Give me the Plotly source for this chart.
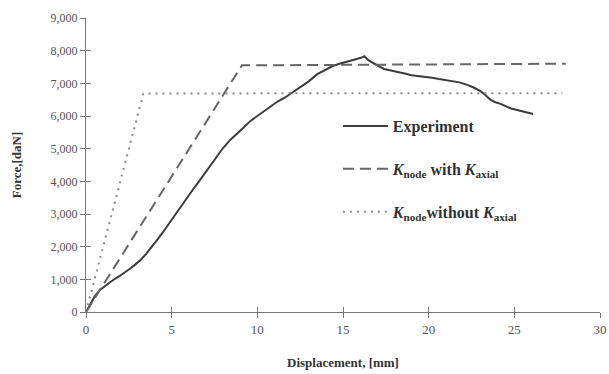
import plotly.graph_objects as go

# Experiment curve
exp_x = [0, 0.15, 0.3, 0.5, 0.8, 1.1, 1.5, 1.9, 2.2, 2.5, 2.8, 3.2, 3.5, 3.8, 4.2, 4.5, 4.8,
         5.2, 5.5, 5.8, 6.2, 6.5, 6.8, 7.2, 7.6, 8.0, 8.4, 8.8, 9.2, 9.6, 10.0, 10.4, 10.8,
         11.2, 11.6, 12.0, 12.5, 13.0, 13.5, 13.9, 14.4, 14.8, 15.2, 15.6, 15.9, 16.1, 16.25,
         16.5, 16.8, 17.1, 17.4, 17.8, 18.2, 18.6, 19.0, 19.4, 19.8, 20.2, 20.6, 21.0, 21.4,
         21.8, 22.2, 22.6, 23.0, 23.3, 23.6, 23.9, 24.2, 24.5, 24.8, 25.1, 25.4, 25.7, 26.1]
exp_y = [0, 130, 300, 470, 670, 800, 950, 1080, 1180, 1300, 1420, 1600, 1770, 1960, 2240, 2450, 2680,
         2980, 3200, 3420, 3720, 3930, 4150, 4450, 4760, 5020, 5260, 5470, 5650, 5850, 6000, 6160, 6320,
         6450, 6560, 6700, 6870, 7060, 7280, 7400, 7530, 7600, 7650, 7700, 7760, 7790, 7830,
         7700, 7600, 7520, 7440, 7400, 7340, 7300, 7250, 7230, 7200, 7170, 7130, 7100, 7070,
         7030, 6960, 6880, 6770, 6650, 6500, 6420, 6370, 6290, 6230, 6190, 6150, 6110, 6060]

# K_node with K_axial
with_x = [0, 9.1, 28.0]
with_y = [0, 7550, 7600]

# K_node without K_axial
without_x = [0, 3.35, 27.8]
without_y = [0, 6690, 6700]

x_ticks = [0, 5, 10, 15, 20, 25, 30]
y_ticks = [0, 1000, 2000, 3000, 4000, 5000, 6000, 7000, 8000, 9000]
y_labels = ["0", "1,000", "2,000", "3,000", "4,000", "5,000", "6,000", "7,000", "8,000", "9,000"]

serif = "Liberation Serif"

fig = go.Figure()
fig.add_trace(go.Scatter(
    x=exp_x, y=exp_y, mode="lines", name="<b>Experiment</b>", legendgroup="a",
    line=dict(color="#3c3c3c", width=2)))
fig.add_trace(go.Scatter(
    x=with_x, y=with_y, mode="lines", legendgroup="b",
    name="<i><b>K</b></i><sub><b>node</b></sub> <b>with</b> <i><b>K</b></i><sub><b>axial</b></sub>",
    line=dict(color="#666666", width=2, dash="11px,6px")))
fig.add_trace(go.Scatter(
    x=without_x, y=without_y, mode="lines", legendgroup="c",
    name="<i><b>K</b></i><sub><b>node</b></sub><b>without</b> <i><b>K</b></i><sub><b>axial</b></sub>",
    line=dict(color="#8a8a8a", width=2, dash="2px,5px")))
# carrier for the overlaid axes that draw the inner half of each tick
fig.add_trace(go.Scatter(x=[None], y=[None], xaxis="x2", yaxis="y2",
                         showlegend=False, hoverinfo="skip"))

axis_common = dict(showgrid=False, zeroline=False, showline=True, linecolor="#777",
                   linewidth=1, tickcolor="#777", tickwidth=1, automargin=False,
                   ticklabeloverflow="allow")

fig.update_layout(
    width=609, height=374,
    margin=dict(l=86, r=9, t=18, b=62, autoexpand=False),
    paper_bgcolor="white", plot_bgcolor="white",
    font=dict(family=serif, color="#444"),
    xaxis=dict(range=[0, 30], tickvals=x_ticks, ticks="outside", ticklen=5,
               tickfont=dict(family=serif, size=13, color="#555"),
               title=dict(text="<b>Displacement, [mm]</b>", font=dict(family=serif, size=13, color="#333"),
                          standoff=22),
               **axis_common),
    yaxis=dict(range=[0, 9000], tickvals=y_ticks, ticktext=y_labels, ticks="outside", ticklen=5,
               tickfont=dict(family=serif, size=12, color="#555"),
               title=dict(text="<b>Force,[daN]</b>", font=dict(family=serif, size=13, color="#333"),
                          standoff=26),
               **axis_common),
    xaxis2=dict(range=[0, 30], overlaying="x", anchor="y2", tickvals=x_ticks, ticks="inside",
                ticklen=5, showticklabels=False, showline=False, showgrid=False, zeroline=False,
                tickcolor="#777", automargin=False),
    yaxis2=dict(range=[0, 9000], overlaying="y", anchor="x2", tickvals=y_ticks, ticks="inside",
                ticklen=5, showticklabels=False, showline=False, showgrid=False, zeroline=False,
                tickcolor="#777", automargin=False),
    legend=dict(x=0.49, y=0.69, xanchor="left", yanchor="top", bgcolor="rgba(0,0,0,0)",
                font=dict(family=serif, size=16, color="#333"), tracegroupgap=19,
                itemwidth=45),
    showlegend=True,
)

# remove the page's default body margin so the 609x374 figure fills the window exactly
fig.write_html("out.html", config={"displayModeBar": False},
               post_script="document.body.style.margin='0';document.body.style.overflow='hidden';")
